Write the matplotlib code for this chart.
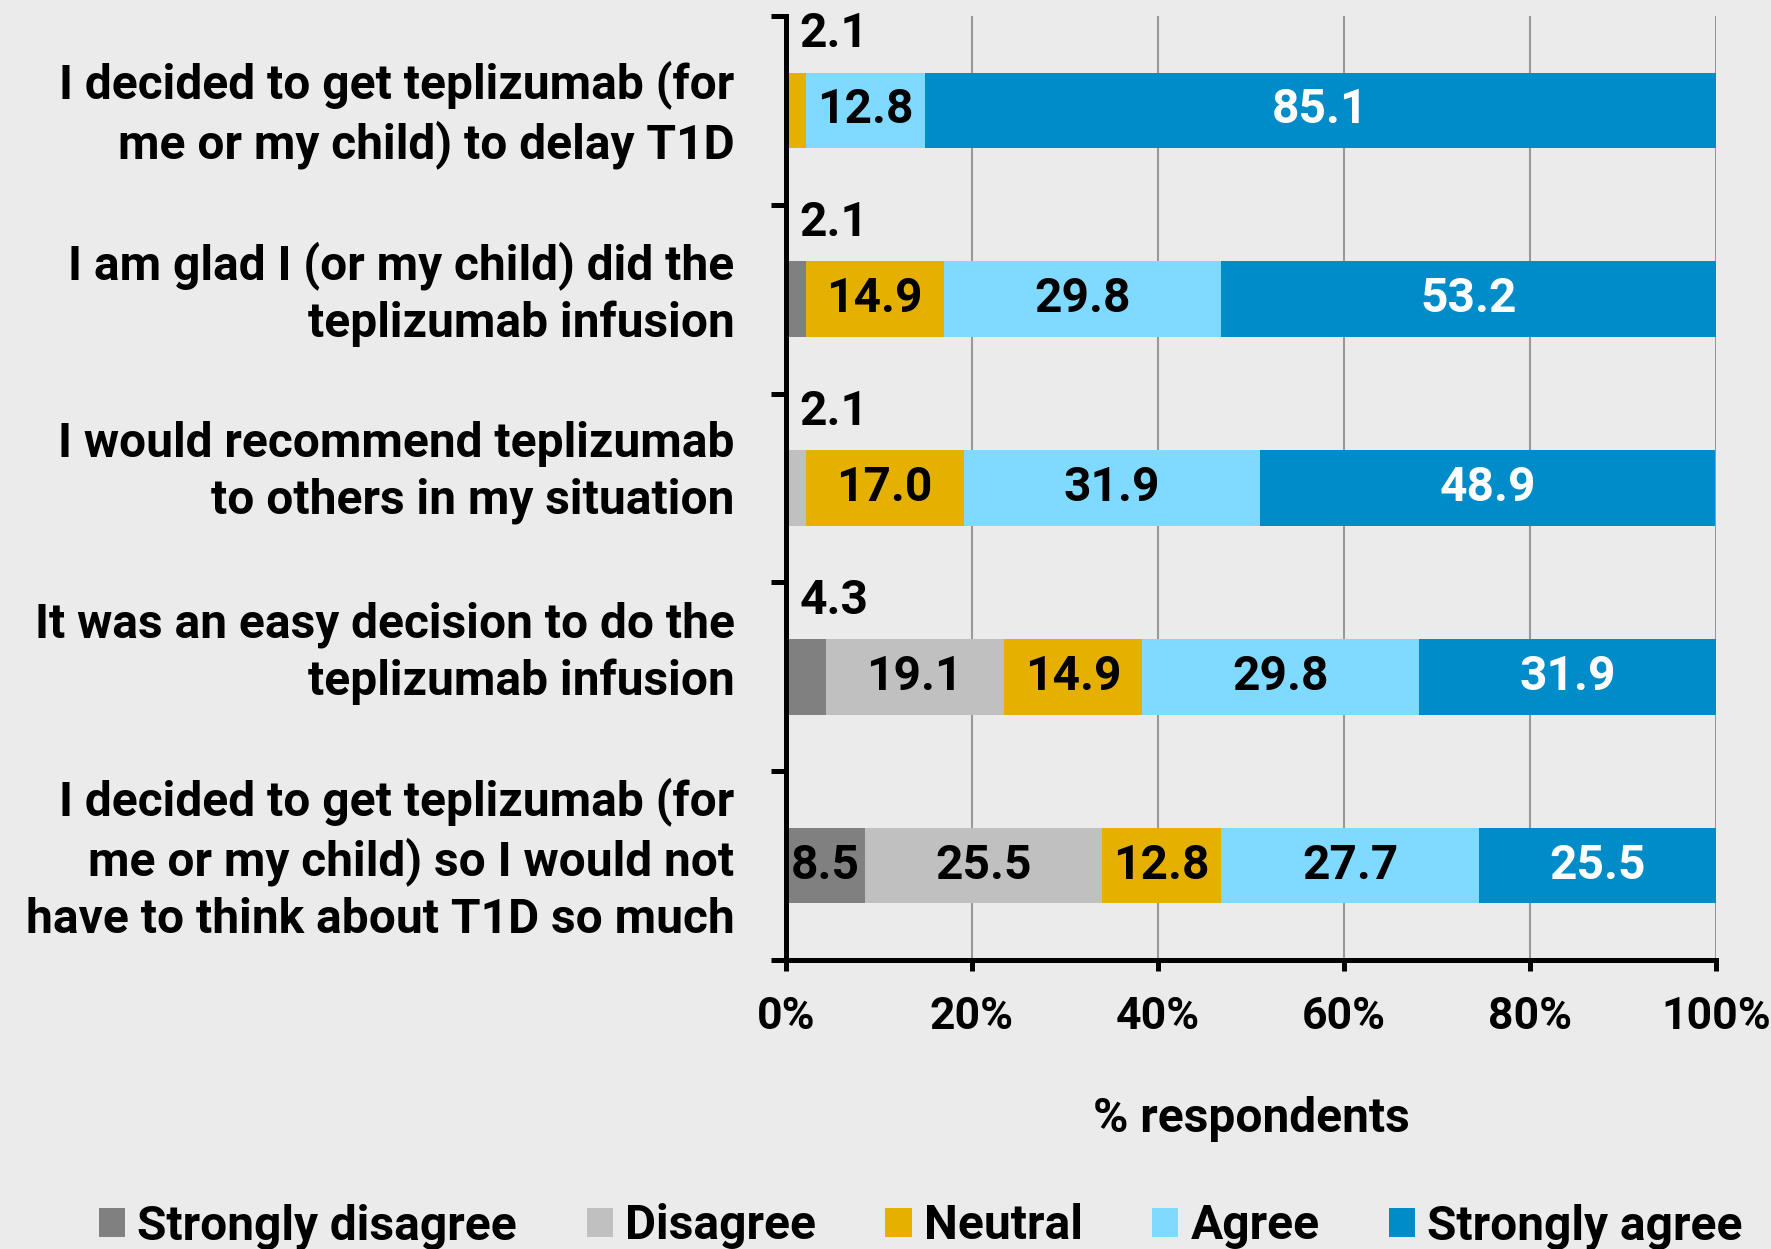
import matplotlib.pyplot as plt
import numpy as np

plt.rcParams['font.family'] = ['Roboto', 'DejaVu Sans']
plt.rcParams['font.weight'] = 'bold'

statements = [
    "I decided to get teplizumab (for\nme or my child) to delay T1D",
    "I am glad I (or my child) did the\nteplizumab infusion",
    "I would recommend teplizumab\nto others in my situation",
    "It was an easy decision to do the\nteplizumab infusion",
    "I decided to get teplizumab (for\nme or my child) so I would not\nhave to think about T1D so much",
]
levels = ["Strongly disagree", "Disagree", "Neutral", "Agree", "Strongly agree"]
strongly_disagree = [0.0, 2.1, 0.0, 4.3, 8.5]
disagree = [0.0, 0.0, 2.1, 19.1, 25.5]
neutral = [2.1, 14.9, 17.0, 14.9, 12.8]
agree = [12.8, 29.8, 31.9, 29.8, 27.7]
strongly_agree = [85.1, 53.2, 48.9, 31.9, 25.5]
colors = ["#808080", "#c0c0c0", "#e6b000", "#80daff", "#008cc8"]
text_colors = ["black", "black", "black", "black", "white"]

series = [strongly_disagree, disagree, neutral, agree, strongly_agree]
bg = "#ebebeb"

# the category labels in the original sit a bit off their bars (points)
label_shift = [-3, 4, 11, 17, 4]

fig = plt.figure(figsize=(17.71, 12.49), dpi=100, facecolor=bg)
ax = fig.add_axes([0.4438, 0.2314, 0.5252, 0.7558], facecolor=bg)

y = np.arange(len(statements))
left = np.zeros(len(statements))
for vals, lab, col, tcol in zip(series, levels, colors, text_colors):
    vals = np.array(vals)
    ax.barh(y, vals, left=left, height=0.4, color=col, label=lab, zorder=3)
    for i, v in enumerate(vals):
        if v == 0:
            continue
        if v >= 5:
            ax.text(left[i] + v / 2, y[i], f"{v:.1f}", ha="center", va="center",
                    fontsize=34.5, fontweight="bold", color=tcol, zorder=4)
        else:
            ax.annotate(f"{v:.1f}", (left[i], y[i] - 0.2), xytext=(10, 11),
                        textcoords="offset points", ha="left", va="bottom",
                        fontsize=34.5, fontweight="bold", color="black")
    left += vals

ax.set_xlim(0, 100)
ax.set_ylim(len(statements) - 0.5, -0.5)
ax.set_xticks(np.arange(0, 101, 20))
ax.set_xticklabels([f"{t}%" for t in range(0, 101, 20)])
ax.set_yticks(y)
ax.set_yticklabels([])
for yi, txt, dy in zip(y, statements, label_shift):
    ax.annotate(txt, xy=(0, yi), xycoords=("axes fraction", "data"),
                xytext=(-37, dy), textcoords="offset points", ha="right", va="center",
                fontsize=34.5, fontweight="bold", linespacing=1.29, annotation_clip=False)
ax.set_yticks(np.arange(-0.5, len(statements), 1), minor=True)
ax.tick_params(axis="y", which="major", length=0)
ax.tick_params(axis="y", which="minor", length=11, width=3.6, direction="out")
ax.tick_params(axis="x", length=8, width=3.6, pad=18, labelsize=32)
for lbl in ax.get_xticklabels():
    lbl.set_fontweight("bold")

ax.grid(axis="x", color="#999999", linewidth=1.5, zorder=0)
ax.set_axisbelow(True)
for s in ["top", "right"]:
    ax.spines[s].set_visible(False)
for s in ["left", "bottom"]:
    ax.spines[s].set_linewidth(3.6)
    ax.spines[s].set_zorder(5)

ax.set_xlabel("% respondents", fontsize=34.5, fontweight="bold", labelpad=42)

fig.legend(loc="lower center", bbox_to_anchor=(0.52, -0.035), ncol=5, frameon=False,
           prop={"size": 34.5, "weight": "bold"}, handlelength=0.55, handleheight=0.55,
           handletextpad=0.25, columnspacing=1.45)

fig.savefig("out.png", dpi=100, facecolor=bg)
